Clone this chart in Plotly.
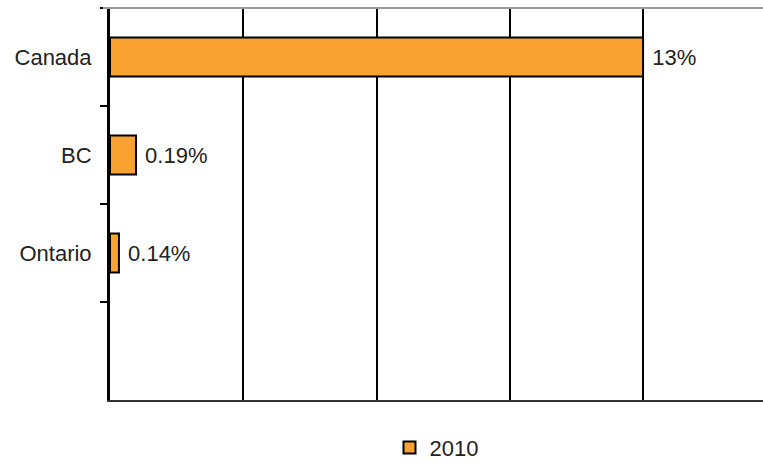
import plotly.graph_objects as go

categories = ["Canada", "BC", "Ontario", " "]
# bar lengths, in gridline units (axis has no tick labels)
bar_lengths = [4.0, 0.195, 0.067, None]
value_labels = ["13%", "0.19%", "0.14%", ""]
series_name = "2010"

ORANGE = "#F8A232"
FONT = dict(family="Liberation Sans, Arial, sans-serif", size=22, color="#222222")

fig = go.Figure()
fig.add_trace(go.Bar(
    y=categories,
    x=bar_lengths,
    orientation="h",
    name=series_name,
    text=value_labels,
    texttemplate="\u00a0%{text}",
    textposition="outside",
    cliponaxis=False,
    textfont=FONT,
    width=0.4,
    marker=dict(color=ORANGE, line=dict(color="#000000", width=2)),
    showlegend=True,
))

fig.update_layout(
    width=763, height=463,
    margin=dict(l=110, r=0, t=8, b=63, autoexpand=False),
    paper_bgcolor="white",
    plot_bgcolor="white",
    font=FONT,
    xaxis=dict(
        range=[0, 4.9], dtick=1, tick0=0,
        showticklabels=False, ticks="",
        showgrid=True, gridcolor="#000000", gridwidth=2,
        zeroline=False, automargin=False,
        showline=True, linecolor="#333333", linewidth=2,
    ),
    yaxis=dict(
        categoryorder="array", categoryarray=categories,
        range=[3.5, -0.5], automargin=False,
        tickson="boundaries", ticks="outside", ticklen=7, tickwidth=2, tickcolor="#000000",
        showline=True, linecolor="#000000", linewidth=3,
        showgrid=False, zeroline=False,
        ticklabelstandoff=11,
    ),
    legend=dict(
        orientation="h", x=0.5, xanchor="center", y=-0.122, yanchor="middle",
        font=dict(family="Liberation Sans, Arial, sans-serif", size=22, color="#222222"),
        itemwidth=30,
    ),
    shapes=[dict(type="line", xref="paper", yref="paper", x0=-0.011, x1=1, y0=1, y1=1,
                 line=dict(color="#999999", width=2), layer="above")],
)

fig.write_html(
    "out.html",
    config={"displayModeBar": False},
    post_script="document.body.style.margin='0';document.body.style.overflow='hidden';",
)
